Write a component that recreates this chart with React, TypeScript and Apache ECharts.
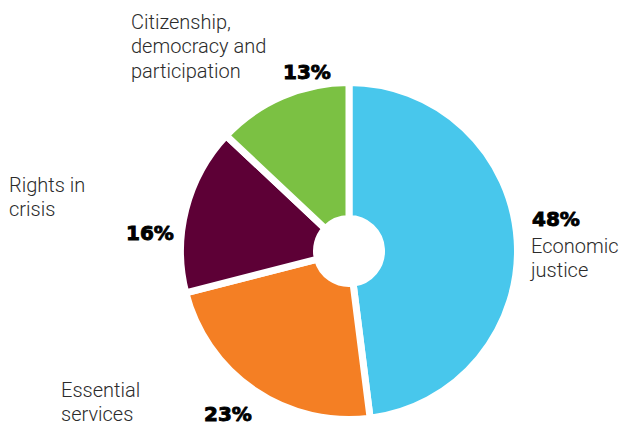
import React, { useEffect, useRef } from "react";
import * as echarts from "echarts";

const categories = ["Economic justice", "Essential services", "Rights in crisis", "Citizenship, democracy and participation"];
const values = [48, 23, 16, 13];
const nameLabels = ["Economic\njustice", "Essential\nservices", "Rights in\ncrisis", "Citizenship,\ndemocracy and\nparticipation"];
const colors = ["#48C7EC", "#F47F24", "#5D0036", "#7BC143"];

// label placement: [nameX, nameCenterY, pctX, pctCenterY]
const labelPos = [
  [531, 258, 532, 219],
  [61, 402, 204, 414],
  [9, 197, 126, 233],
  [131, 46, 283, 72],
];

const LIGHT = "300 20px Roboto, 'Noto Sans', sans-serif";
const BOLD = "bold 20px 'DejaVu Sans', sans-serif";

export default function App() {
  const ref = useRef<HTMLDivElement>(null);
  useEffect(() => {
    const chart = echarts.init(ref.current!, null, { renderer: "svg" });
    const graphics: any[] = [];
    categories.forEach((c, i) => {
      const p = labelPos[i];
      graphics.push({
        type: "text",
        x: p[0],
        y: p[1],
        style: {
          text: nameLabels[i],
          font: LIGHT,
          fill: "#2b2b2b",
          lineHeight: 24.5,
          verticalAlign: "middle",
          align: "left",
        },
      });
      graphics.push({
        type: "text",
        x: p[2],
        y: p[3],
        style: {
          text: values[i] + "%",
          font: BOLD,
          fill: "#000",
          stroke: "#000",
          lineWidth: 0.9,
          verticalAlign: "middle",
          align: "left",
        },
      });
    });
    chart.setOption({
      animation: false,
      backgroundColor: "#fff",
      series: [
        {
          type: "pie",
          center: [349, 251],
          radius: [32.5, 168.5],
          startAngle: 90,
          clockwise: true,
          label: { show: false },
          labelLine: { show: false },
          emphasis: { disabled: true },
          itemStyle: { borderColor: "#fff", borderWidth: 7 },
          data: categories.map((c, i) => ({
            name: c,
            value: values[i],
            itemStyle: { color: colors[i] },
          })),
        },
      ],
      graphic: graphics,
    });
    return () => chart.dispose();
  }, []);
  return <div ref={ref} style={{ width: 622, height: 425, position: "absolute", left: 0, top: 0 }} />;
}
